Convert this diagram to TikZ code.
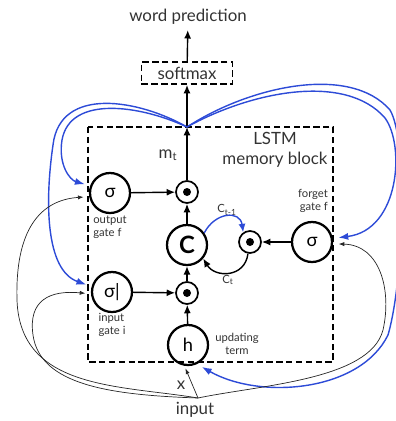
\documentclass[tikz,border=0pt]{standalone}
\usepackage{fontspec}
\setmainfont{Lato}
\usepackage{tikz}
\usetikzlibrary{arrows.meta}
\definecolor{fbblue}{RGB}{45,75,215}
\tikzset{
  gate/.style={circle, draw, line width=1.6pt, minimum size=1cm, inner sep=0pt, font=\fontsize{13}{13}\selectfont},
  prodnode/.style={circle, draw, line width=1.2pt, minimum size=0.55cm, inner sep=0pt,
    path picture={\fill (path picture bounding box.center) circle (0.1cm);}},
  lbl/.style={font=\fontsize{8}{9}\selectfont, text=black!80, inner sep=0pt},
  fb/.style={fbblue, line width=1pt, -{Latex[length=7pt,width=5pt]}, shorten >=4pt},
  inl/.style={black!85, line width=0.5pt, -{Latex[length=4pt,width=3pt]}, shorten >=4pt},
  blockdash/.style={line width=1.3pt, dash pattern=on 4.5pt off 2.5pt}
}

\begin{document}
\begin{tikzpicture}[x=0.025cm, y=-0.025cm, >={Latex[length=6pt,width=5pt]}, line width=1pt,
    font=\fontsize{12}{14}\selectfont]
  \useasboundingbox (0,0) rectangle (395,421);

  % memory block
  \draw[blockdash] (88,127) rectangle (333,362);
  \node[align=center, text=black!80] (blk) at (275,150) {LSTM\\memory block};

  % gates, cell and products
  \node[gate] (og) at (110,193) {σ};
  \node[gate] (ig) at (112,292) {σ|};
  \node[gate] (fg) at (312,242) {σ};
  \node[gate, font=\fontsize{17}{17}\bfseries] (cell) at (187,245) {C};
  \node[gate] (h) at (188,345) {h};
  \node[prodnode] (mo) at (187,192) {};
  \node[prodnode] (mi) at (187,293) {};
  \node[prodnode] (mf) at (250,242) {};

  % labels
  \node[lbl, align=left] (ogl) at (110,227) {output\\gate f};
  \node[lbl, align=right] (fgl) at (313,201) {forget\\gate f};
  \node[lbl, align=left] (igl) at (112,325) {input\\gate i};
  \node[lbl, align=center] (hl) at (237,344) {updating\\term};
  \node[lbl] (cprev) at (227,210) {C\textsubscript{t-1}};
  \node[lbl] (ccur) at (228,280) {C\textsubscript{t}};
  \node[text=black!80] (mt) at (168,155) {m\textsubscript{t}};

  % output side
  \coordinate (top) at (187,127);
  \node[draw, blockdash, minimum width=2.275cm, minimum height=0.55cm, inner sep=0pt, text=black!80] (sm) at (187,73) {softmax};
  \node[text=black!80] (wp) at (188,17) {word prediction};
  \draw[->] (mo) -- (top);
  \draw[->] (top) -- (sm);
  \draw[->] (sm) -- (wp);

  % inside the block
  \draw[->] (og) -- (mo);
  \draw[->] (ig) -- (mi);
  \draw[->] (fg) -- (mf);
  \draw[->] (h) -- (mi);
  \draw[->] (mi) -- (cell);
  \draw[->] (cell) -- (mo);
  \draw[fbblue, ->] (cell.35) .. controls (215,212) and (240,210) .. (mf.125);
  \draw[->] (mf.-100) .. controls (245,278) and (215,278) .. (cell.-40);

  % recurrent links from m_t
  \draw[fb] (top) .. controls (140,100) and (60,85) .. (53,145) .. controls (45,200) and (45,270) .. (ig.165);
  \draw[fb] (top) .. controls (140,105) and (70,95) .. (62,140) .. controls (58,165) and (70,180) .. (og.160);
  \draw[fb] (top) .. controls (250,92) and (345,72) .. (385,118) .. controls (405,145) and (400,230) .. (fg.10);
  \draw[fb] (top) .. controls (250,86) and (350,64) .. (390,110) .. controls (408,140) and (404,280) .. (388,335) .. controls (360,392) and (260,400) .. (h.-65);

  % input links
  \node[text=black!80] (inp) at (195,410) {input};
  \node[text=black!80] (xl) at (181,385) {x};
  \coordinate (in) at (198,398);
  \draw[inl] (in) .. controls (120,385) and (20,390) .. (17,300) .. controls (15,230) and (40,200) .. (og.190);
  \draw[inl] (in) .. controls (110,395) and (40,385) .. (33,335) .. controls (28,300) and (50,290) .. (ig.185);
  \draw[inl] (in) .. controls (260,385) and (370,380) .. (383,330) .. controls (392,290) and (380,245) .. (fg.-5);
  \draw[inl, shorten >=2pt] (in) -- (h.-100);
\end{tikzpicture}
\end{document}
